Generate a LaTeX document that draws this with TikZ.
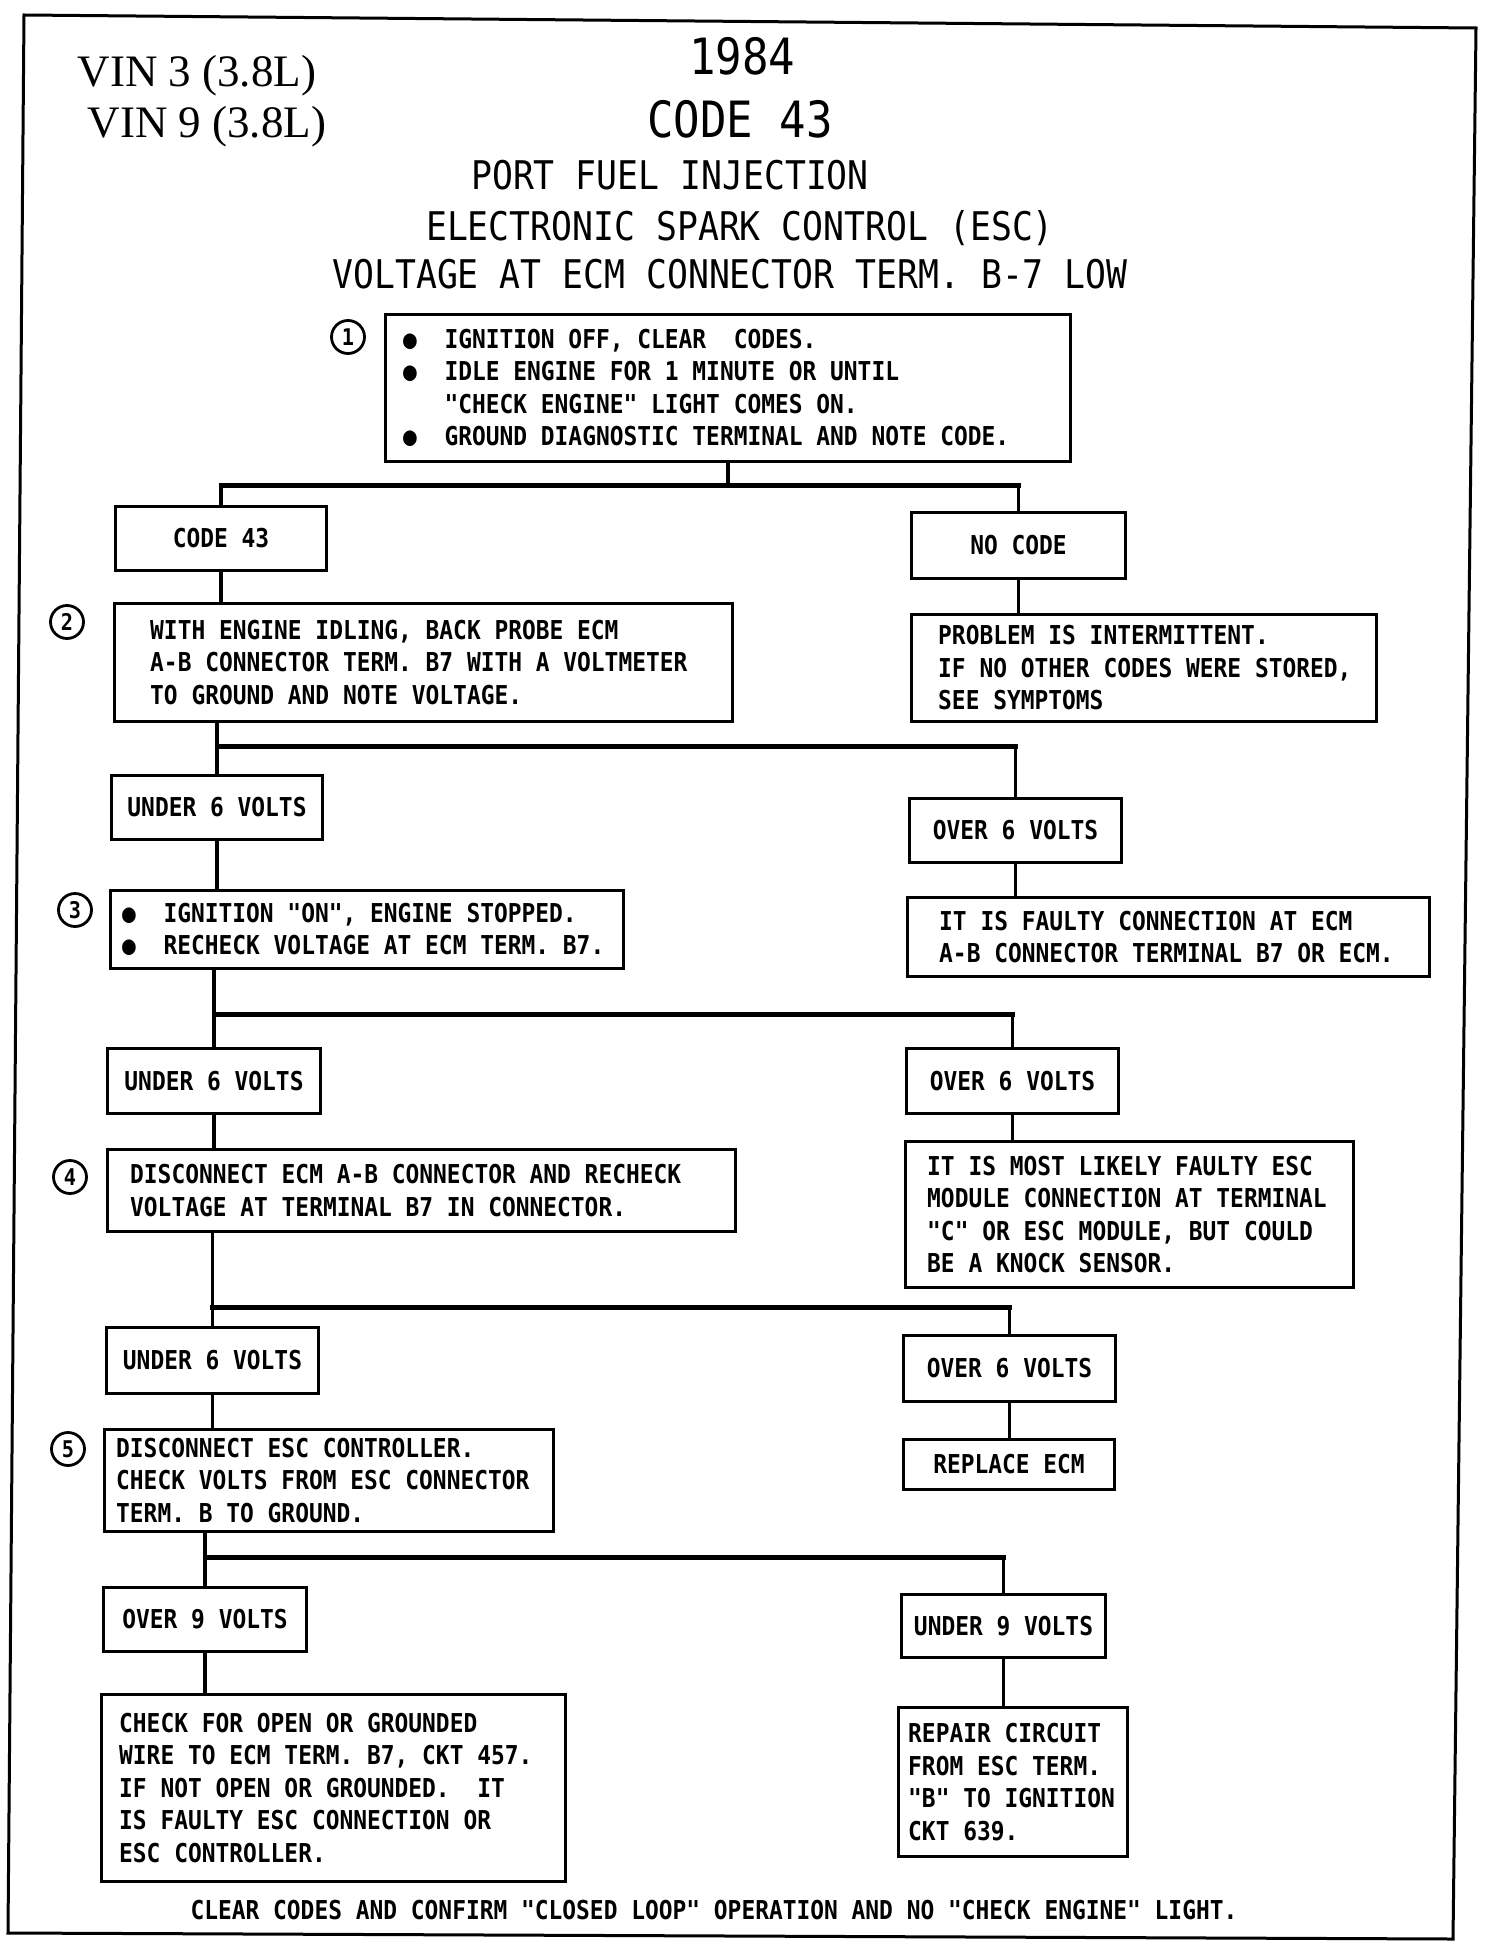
\documentclass[tikz,border=0pt]{standalone}
\usepackage{fontspec}
\usetikzlibrary{calc}
\newfontfamily\plotfont[FakeStretch=0.88]{DejaVu Sans Mono}
\newfontfamily\vinserif{Liberation Serif}
\newcommand{\plotbox}{\plotfont\bfseries\fontsize{26}{32.5}\selectfont\frenchspacing}
\newcommand{\plothead}{\plotfont\fontsize{39.5}{44}\selectfont}
\newcommand{\plotbig}{\plotfont\fontsize{50}{56}\selectfont}
\newcommand{\plotnum}{\plotfont\bfseries\fontsize{23}{23}\selectfont}
\newcommand{\vinfont}{\vinserif\fontsize{45}{50}\selectfont}

\begin{document}
\begin{tikzpicture}[x=1pt, y=-1pt,
    box/.style={draw, line width=3pt, rectangle, inner sep=0pt, anchor=north west},
    answer/.style={box, font=\plotbox},
    boxtext/.style={anchor=west, align=left, inner sep=0pt, font=\plotbox},
    wire/.style={line width=3.2pt},
    branch/.style={line width=5pt, line cap=rect},
    stepnum/.style={draw, circle, line width=2.8pt, minimum size=33pt, inner sep=0pt, font=\plotnum},
    title/.style={anchor=base, font=\plothead}]

  \useasboundingbox (0,0) rectangle (1504,1950);

  % page frame (scan is slightly tilted)
  \draw[line width=3pt] (24,15) -- (1476,28) -- (1453,1939) -- (8,1933) -- cycle;

  % heading
  \node[anchor=base west, font=\vinfont] (vin3) at (74,87) {VIN 3 (3.8L)};
  \node[anchor=base west, font=\vinfont] (vin9) at (84,138) {VIN 9 (3.8L)};
  \node[title, font=\plotbig] (year) at (742,75) {1984};
  \node[title, font=\plotbig] (code) at (740,138) {CODE 43};
  \node[title] (pfi) at (670,190) {PORT FUEL INJECTION};
  \node[title] (esc) at (740,241) {ELECTRONIC SPARK CONTROL (ESC)};
  \node[title] (volt) at (730,289) {VOLTAGE AT ECM CONNECTOR TERM. B-7 LOW};

  % step boxes, left column
  \node[box, minimum width=685pt, minimum height=147pt] (step1) at (384,313) {};
  \node[boxtext] (step1txt) at ([xshift=19pt]step1.west)
    {●\ \ IGNITION OFF, CLEAR\ \ CODES.\\
     ●\ \ IDLE ENGINE FOR 1 MINUTE OR UNTIL\\
     \phantom{●}\ \ "CHECK ENGINE" LIGHT COMES ON.\\
     ●\ \ GROUND DIAGNOSTIC TERMINAL AND NOTE CODE.};

  \node[answer, minimum width=211pt, minimum height=64pt] (code43) at (114,505) {CODE 43};

  \node[box, minimum width=618pt, minimum height=118pt] (step2) at (113,602) {};
  \node[boxtext] (step2txt) at ([xshift=37pt]step2.west)
    {WITH ENGINE IDLING, BACK PROBE ECM\\
     A-B CONNECTOR TERM. B7 WITH A VOLTMETER\\
     TO GROUND AND NOTE VOLTAGE.};

  \node[answer, minimum width=211pt, minimum height=64pt] (under6a) at (110,774) {UNDER 6 VOLTS};

  \node[box, minimum width=513pt, minimum height=78pt] (step3) at (109,889) {};
  \node[boxtext] (step3txt) at ([xshift=13pt]step3.west)
    {●\ \ IGNITION "ON", ENGINE STOPPED.\\
     ●\ \ RECHECK VOLTAGE AT ECM TERM. B7.};

  \node[answer, minimum width=213pt, minimum height=65pt] (under6b) at (106,1047) {UNDER 6 VOLTS};

  \node[box, minimum width=628pt, minimum height=82pt] (step4) at (106,1148) {};
  \node[boxtext] (step4txt) at ([xshift=24pt]step4.west)
    {DISCONNECT ECM A-B CONNECTOR AND RECHECK\\
     VOLTAGE AT TERMINAL B7 IN CONNECTOR.};

  \node[answer, minimum width=212pt, minimum height=66pt] (under6c) at (105,1326) {UNDER 6 VOLTS};

  \node[box, minimum width=449pt, minimum height=102pt] (step5) at (103,1428) {};
  \node[boxtext] (step5txt) at ([xshift=13pt]step5.west)
    {DISCONNECT ESC CONTROLLER.\\
     CHECK VOLTS FROM ESC CONNECTOR\\
     TERM. B TO GROUND.};

  \node[answer, minimum width=203pt, minimum height=64pt] (over9) at (102,1586) {OVER 9 VOLTS};

  \node[box, minimum width=464pt, minimum height=187pt] (checkwire) at (100,1693) {};
  \node[boxtext] (checkwiretxt) at ([xshift=19pt]checkwire.west)
    {CHECK FOR OPEN OR GROUNDED\\
     WIRE TO ECM TERM. B7, CKT 457.\\
     IF NOT OPEN OR GROUNDED.\ \ IT\\
     IS FAULTY ESC CONNECTION OR\\
     ESC CONTROLLER.};

  % right column
  \node[answer, minimum width=214pt, minimum height=66pt] (nocode) at (910,511) {NO CODE};

  \node[box, minimum width=465pt, minimum height=107pt] (intermit) at (910,613) {};
  \node[boxtext] (intermittxt) at ([xshift=28pt]intermit.west)
    {PROBLEM IS INTERMITTENT.\\
     IF NO OTHER CODES WERE STORED,\\
     SEE SYMPTOMS};

  \node[answer, minimum width=212pt, minimum height=64pt] (over6a) at (908,797) {OVER 6 VOLTS};

  \node[box, minimum width=522pt, minimum height=79pt] (faulty) at (906,896) {};
  \node[boxtext] (faultytxt) at ([xshift=33pt]faulty.west)
    {IT IS FAULTY CONNECTION AT ECM\\
     A-B CONNECTOR TERMINAL B7 OR ECM.};

  \node[answer, minimum width=212pt, minimum height=65pt] (over6b) at (905,1047) {OVER 6 VOLTS};

  \node[box, minimum width=448pt, minimum height=146pt] (esclikely) at (904,1140) {};
  \node[boxtext] (esclikelytxt) at ([xshift=23pt]esclikely.west)
    {IT IS MOST LIKELY FAULTY ESC\\
     MODULE CONNECTION AT TERMINAL\\
     "C" OR ESC MODULE, BUT COULD\\
     BE A KNOCK SENSOR.};

  \node[answer, minimum width=212pt, minimum height=66pt] (over6c) at (902,1334) {OVER 6 VOLTS};
  \node[answer, minimum width=211pt, minimum height=50pt] (replace) at (902,1438) {REPLACE ECM};

  \node[answer, minimum width=204pt, minimum height=63pt] (under9) at (900,1593) {UNDER 9 VOLTS};

  \node[box, minimum width=229pt, minimum height=149pt] (repair) at (897,1706) {};
  \node[boxtext] (repairtxt) at ([xshift=11pt]repair.west)
    {REPAIR CIRCUIT\\
     FROM ESC TERM.\\
     "B" TO IGNITION\\
     CKT 639.};

  % circled step numbers
  \foreach \n/\x/\y in {1/348/337, 2/67/622, 3/75/910, 4/70/1177, 5/68/1449}
    \node[stepnum] (num\n) at (\x,\y) {\n};

  % forks
  \coordinate (fork1) at (0,485);
  \coordinate (fork2) at (0,746);
  \coordinate (fork3) at (0,1014);
  \coordinate (fork4) at (0,1307);
  \coordinate (fork5) at (0,1557);

  \draw[wire] (step1.south) -- (step1.south |- fork1);
  \draw[branch] (code43.north |- fork1) -- (nocode.north |- fork1);
  \draw[wire] (code43.north |- fork1) -- (code43.north);
  \draw[wire] (nocode.north |- fork1) -- (nocode.north);
  \draw[wire] (code43.south) -- (code43.south |- step2.north);
  \draw[wire] (nocode.south) -- (nocode.south |- intermit.north);

  \draw[wire] (under6a.north |- step2.south) -- (under6a.north |- fork2);
  \draw[branch] (under6a.north |- fork2) -- (over6a.north |- fork2);
  \draw[wire] (under6a.north |- fork2) -- (under6a.north);
  \draw[wire] (over6a.north |- fork2) -- (over6a.north);
  \draw[wire] (under6a.south) -- (under6a.south |- step3.north);
  \draw[wire] (over6a.south) -- (over6a.south |- faulty.north);

  \draw[wire] (under6b.north |- step3.south) -- (under6b.north |- fork3);
  \draw[branch] (under6b.north |- fork3) -- (over6b.north |- fork3);
  \draw[wire] (under6b.north |- fork3) -- (under6b.north);
  \draw[wire] (over6b.north |- fork3) -- (over6b.north);
  \draw[wire] (under6b.south) -- (under6b.south |- step4.north);
  \draw[wire] (over6b.south) -- (over6b.south |- esclikely.north);

  \draw[wire] (under6c.north |- step4.south) -- (under6c.north |- fork4);
  \draw[branch] (under6c.north |- fork4) -- (over6c.north |- fork4);
  \draw[wire] (under6c.north |- fork4) -- (under6c.north);
  \draw[wire] (over6c.north |- fork4) -- (over6c.north);
  \draw[wire] (under6c.south) -- (under6c.south |- step5.north);
  \draw[wire] (over6c.south) -- (over6c.south |- replace.north);

  \draw[wire] (over9.north |- step5.south) -- (over9.north |- fork5);
  \draw[branch] (over9.north |- fork5) -- (under9.north |- fork5);
  \draw[wire] (over9.north |- fork5) -- (over9.north);
  \draw[wire] (under9.north |- fork5) -- (under9.north);
  \draw[wire] (over9.south) -- (over9.south |- checkwire.north);
  \draw[wire] (under9.south) -- (under9.south |- repair.north);

  \node[anchor=base, font=\plotbox] (confirm) at (714,1919)
    {CLEAR CODES AND CONFIRM "CLOSED LOOP" OPERATION AND NO "CHECK ENGINE" LIGHT.};

\end{tikzpicture}
\end{document}
